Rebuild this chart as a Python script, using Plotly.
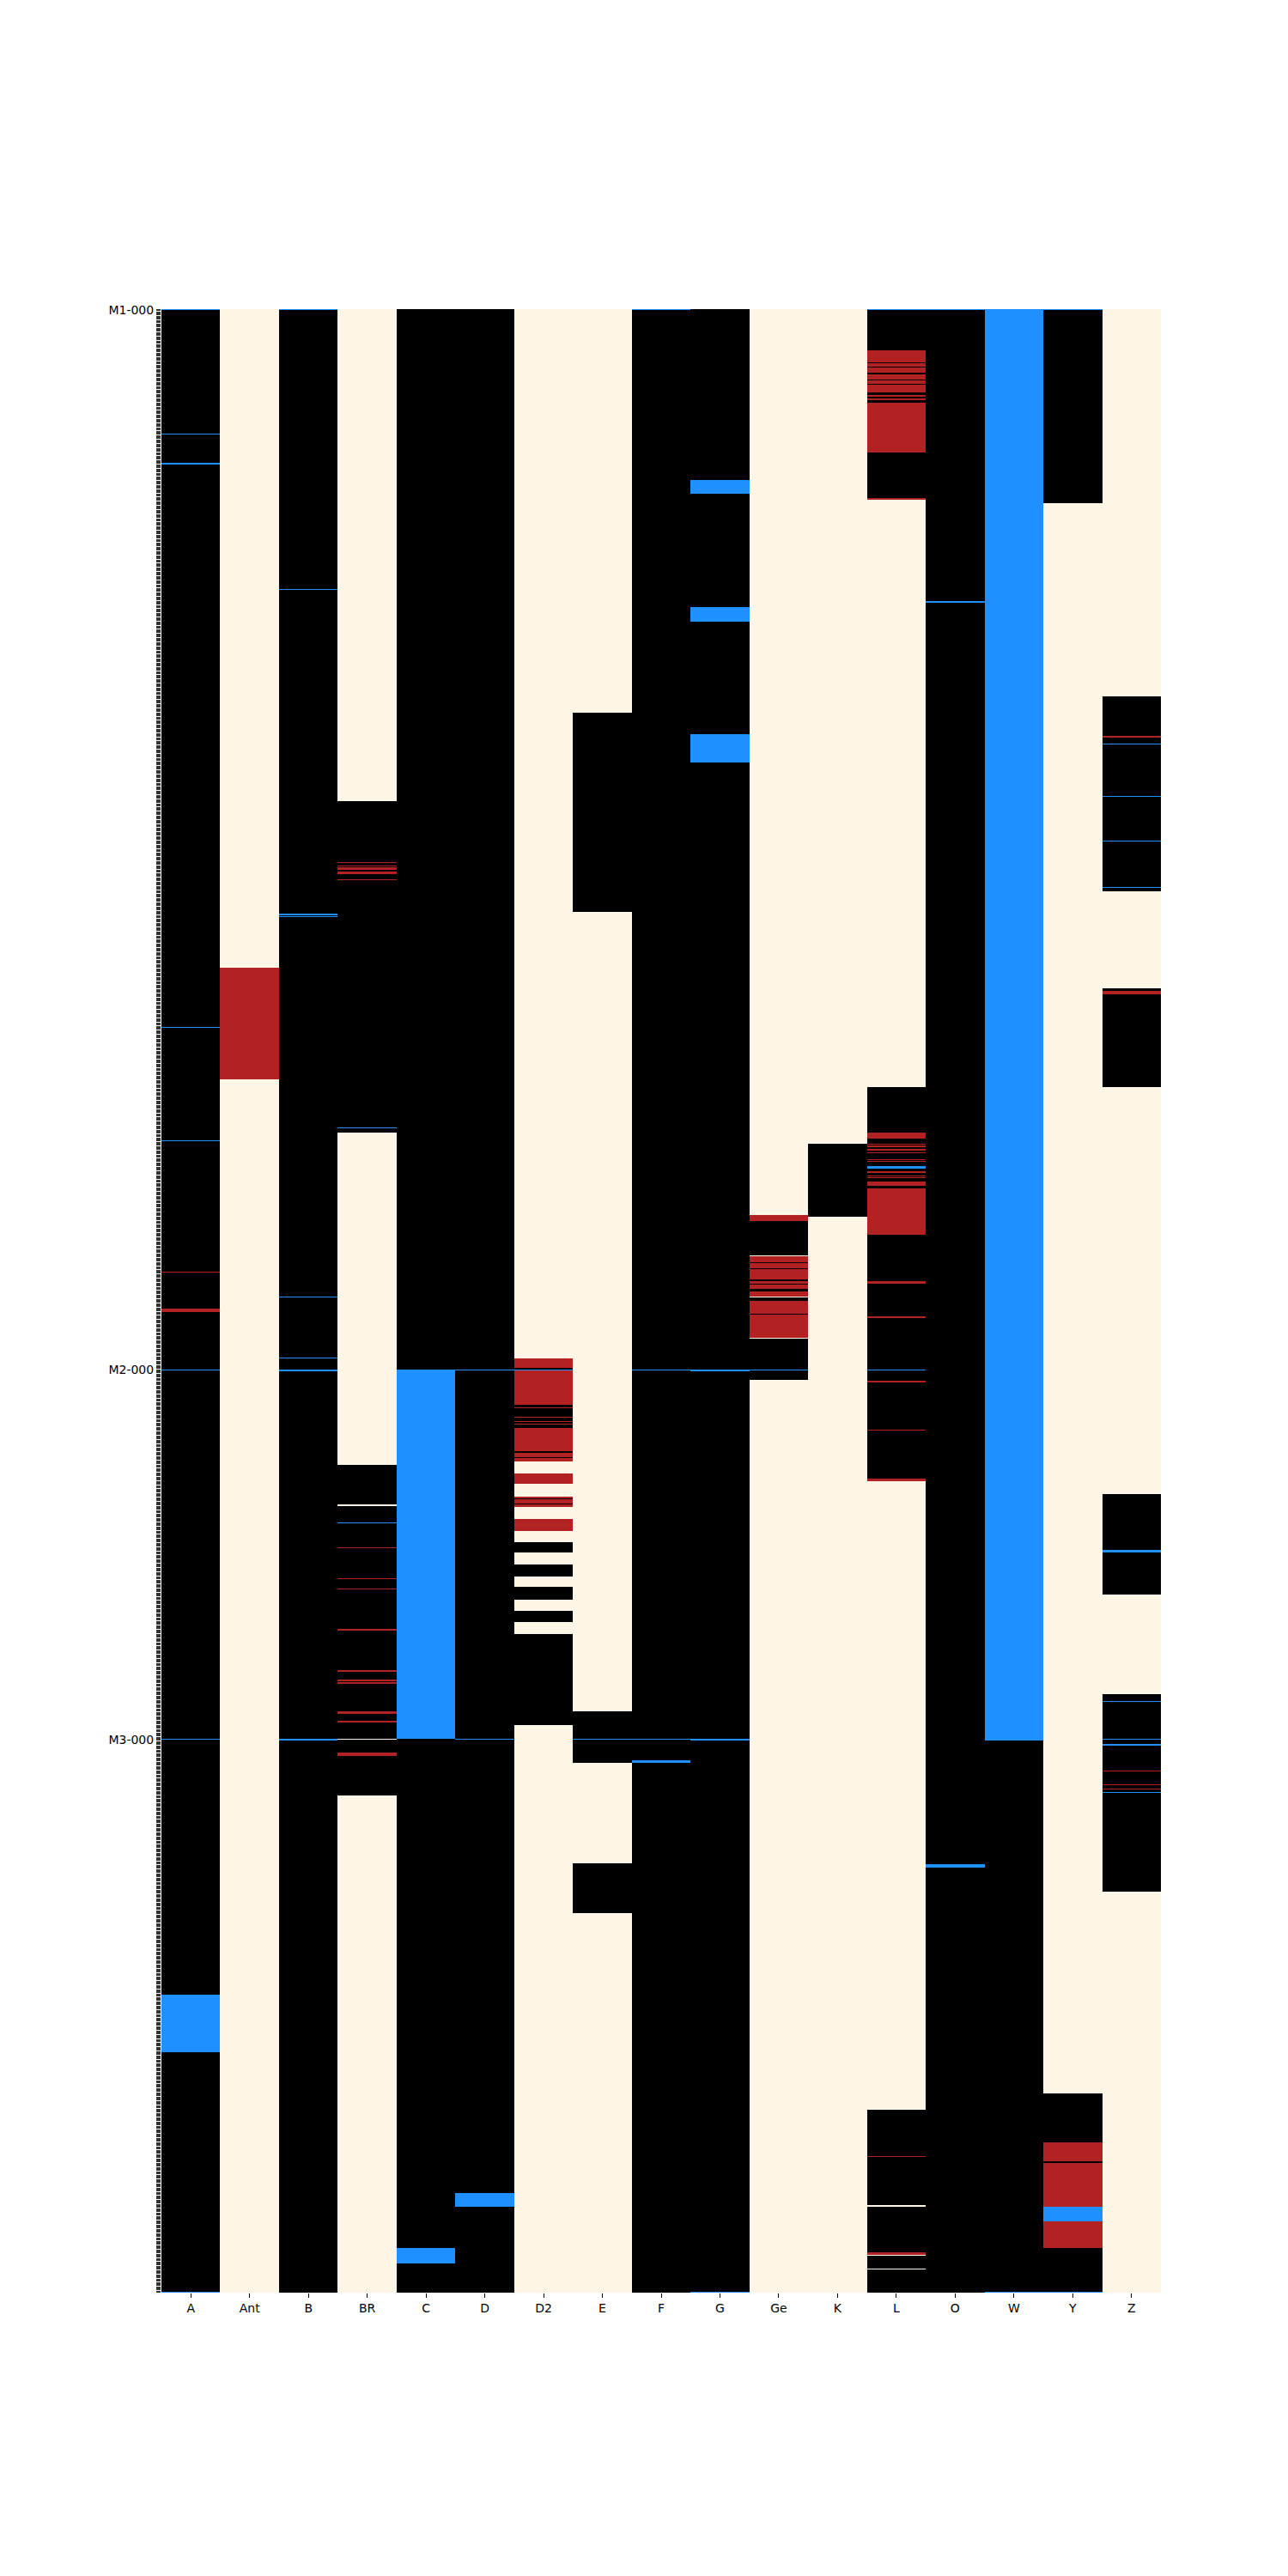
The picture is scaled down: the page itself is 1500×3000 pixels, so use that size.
import numpy as np
import plotly.graph_objects as go

# ---- data ----
columns = ["A", "Ant", "B", "BR", "C", "D", "D2", "E", "F", "G", "Ge", "K", "L", "O", "W", "Y", "Z"]
group_names = ["M1", "M2", "M3"]
group_sizes = [978, 341, 511]

# state codes: 0 = absent (cream), 1 = present (black), 2 = blue, 3 = red
state_colors = ["#fdf5e6", "#000000", "#1e90ff", "#b22222"]

# base state of each column (same order as columns)
base_state = [1, 0, 1, 0, 1, 1, 0, 0, 1, 1, 0, 0, 0, 1, 2, 0, 0]

# runs of rows (first, last, state) overriding the base state
seg_A = [(0, 0, 2), (115, 115, 2), (142, 142, 2), (662, 662, 2), (767, 767, 2), (888, 888, 3),
         (922, 924, 3), (978, 978, 2), (1319, 1319, 2), (1555, 1607, 2), (1829, 1829, 2)]
seg_Ant = [(608, 710, 3)]
seg_B = [(0, 0, 2), (258, 258, 2), (558, 558, 2), (560, 560, 2), (911, 911, 2), (967, 967, 2),
         (978, 979, 2), (1319, 1320, 2)]
seg_BR = [(454, 759, 1), (510, 510, 3), (513, 513, 3), (515, 516, 3), (519, 520, 3), (526, 526, 3),
          (755, 755, 2), (1066, 1370, 1), (1103, 1103, 0), (1119, 1119, 2), (1142, 1142, 3),
          (1171, 1171, 3), (1180, 1180, 3), (1218, 1218, 3), (1256, 1256, 3), (1264, 1265, 3),
          (1267, 1267, 3), (1294, 1295, 3), (1302, 1303, 3), (1319, 1319, 0), (1332, 1334, 3)]
seg_C = [(978, 1318, 2), (1789, 1802, 2)]
seg_D = [(978, 978, 2), (1319, 1319, 2), (1738, 1750, 2)]
seg_D2 = [(968, 976, 3), (977, 977, 1), (978, 978, 2), (979, 1010, 3), (1011, 1031, 1), (1013, 1013, 3),
          (1022, 1022, 3), (1026, 1026, 3), (1028, 1028, 3), (1032, 1053, 3), (1054, 1054, 1),
          (1055, 1058, 3), (1059, 1059, 1), (1060, 1062, 3), (1074, 1083, 3), (1096, 1104, 3),
          (1097, 1097, 1), (1102, 1102, 1), (1116, 1126, 3), (1138, 1146, 1), (1158, 1168, 1),
          (1179, 1190, 1), (1201, 1210, 1), (1222, 1305, 1)]
seg_E = [(372, 555, 1), (1294, 1340, 1), (1319, 1319, 2), (1434, 1479, 1)]
seg_F = [(0, 0, 2), (978, 978, 2), (1319, 1319, 2), (1339, 1340, 2)]
seg_G = [(158, 169, 2), (275, 287, 2), (392, 417, 2), (978, 979, 2), (1319, 1320, 2), (1829, 1829, 2)]
seg_Ge = [(836, 840, 3), (841, 987, 1), (873, 873, 0), (874, 878, 3), (880, 884, 3), (886, 894, 3),
          (897, 898, 3), (900, 903, 3), (906, 910, 3), (911, 911, 0), (915, 926, 3), (928, 948, 3),
          (949, 949, 0), (978, 978, 2)]
seg_K = [(770, 836, 1)]
seg_L = [(0, 175, 1), (0, 0, 2), (38, 48, 3), (50, 52, 3), (54, 58, 3), (60, 64, 3), (66, 68, 3),
         (70, 76, 3), (79, 80, 3), (82, 83, 3), (86, 131, 3), (174, 175, 3),
         (718, 1080, 1), (760, 764, 3), (770, 770, 3), (772, 772, 3), (775, 775, 3), (778, 778, 3),
         (784, 784, 3), (786, 786, 3), (791, 792, 2), (795, 796, 3), (799, 799, 3), (801, 801, 3),
         (805, 808, 3), (811, 853, 3), (897, 898, 3), (929, 930, 3), (978, 978, 2), (989, 989, 3),
         (1034, 1034, 3), (1079, 1080, 3),
         (1661, 1829, 1), (1704, 1704, 3), (1749, 1750, 0), (1793, 1794, 3), (1795, 1795, 0),
         (1808, 1808, 0)]
seg_O = [(0, 0, 2), (269, 270, 2), (1435, 1437, 2)]
seg_W = [(1321, 1828, 1)]
seg_Y = [(0, 178, 1), (0, 0, 2), (1646, 1829, 1), (1691, 1708, 3), (1710, 1750, 3), (1751, 1763, 2),
         (1764, 1788, 3), (1829, 1829, 2)]
seg_Z = [(357, 536, 1), (394, 394, 3), (401, 401, 2), (449, 449, 2), (490, 490, 2), (533, 533, 2),
         (627, 717, 1), (629, 631, 3), (1093, 1185, 1), (1145, 1146, 2), (1278, 1459, 1),
         (1284, 1284, 2), (1319, 1319, 2), (1324, 1324, 2), (1348, 1348, 3), (1361, 1361, 3),
         (1365, 1365, 3), (1368, 1368, 2)]

column_segments = [seg_A, seg_Ant, seg_B, seg_BR, seg_C, seg_D, seg_D2, seg_E, seg_F, seg_G,
                   seg_Ge, seg_K, seg_L, seg_O, seg_W, seg_Y, seg_Z]

# ---- build matrix ----
row_labels = [f"{g}-{i:03d}" for g, n in zip(group_names, group_sizes) for i in range(n)]
n_rows = len(row_labels)
z = np.zeros((n_rows, len(columns)), dtype=int)
for j, (base, segs) in enumerate(zip(base_state, column_segments)):
    z[:, j] = base
    for s, e, c in segs:
        z[s:e + 1, j] = c

k = len(state_colors)
colorscale = []
for i, col in enumerate(state_colors):
    colorscale.append([i / k, col])
    colorscale.append([(i + 1) / k, col])

fig = go.Figure(go.Heatmap(
    z=z,
    x=list(range(len(columns))),
    y=list(range(n_rows)),
    colorscale=colorscale,
    zmin=-0.5, zmax=k - 0.5,
    showscale=False,
    hoverinfo="skip",
))

tick_text = [lab if lab.endswith("-000") else "" for lab in row_labels]

fig.update_layout(
    width=1500, height=3000,
    margin=dict(l=188, r=148, t=360, b=330),
    paper_bgcolor="white", plot_bgcolor="white",
    font=dict(family="DejaVu Sans", size=14, color="#000000"),
    xaxis=dict(
        tickmode="array", tickvals=list(range(len(columns))), ticktext=columns,
        ticks="outside", ticklen=5, tickwidth=1.1, tickcolor="#000000",
        showgrid=False, zeroline=False, showline=False,
        range=[-0.5, len(columns) - 0.5],
        tickfont=dict(family="DejaVu Sans", size=14, color="#000000"),
    ),
    yaxis=dict(
        tickmode="array", tickvals=list(range(n_rows)), ticktext=tick_text,
        ticks="outside", ticklen=5, tickwidth=0.8, tickcolor="#333333",
        showgrid=False, zeroline=False, showline=False,
        range=[n_rows - 0.5, -0.5],
        tickfont=dict(family="DejaVu Sans", size=14, color="#000000"),
    ),
)

fig.write_html("out.html")
